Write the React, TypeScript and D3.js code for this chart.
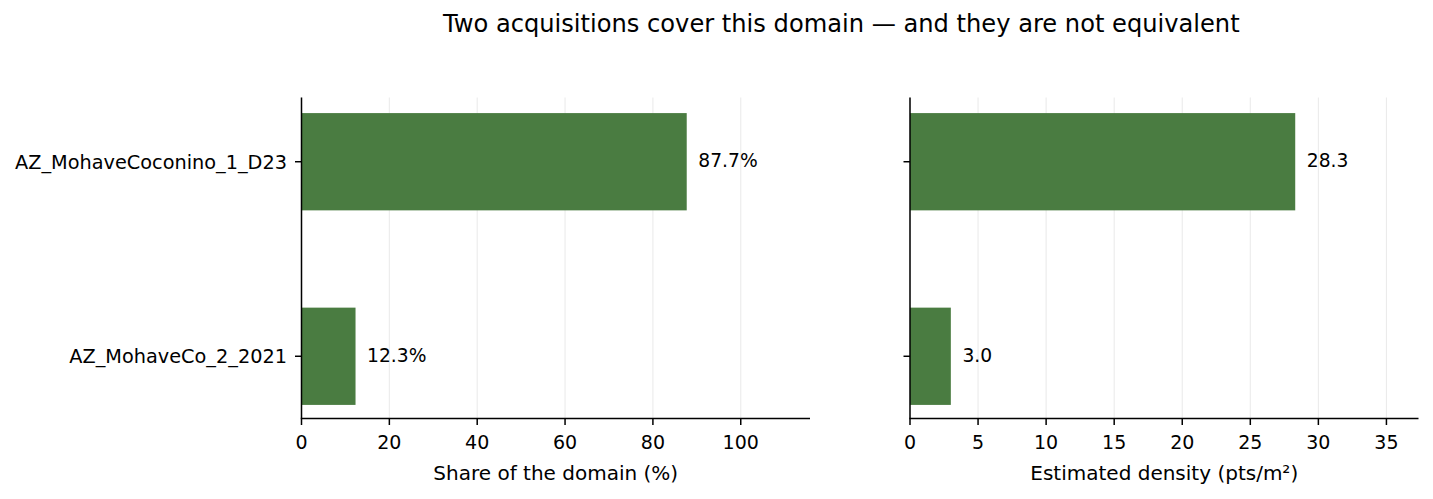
import React from "react";
import * as d3 from "d3";

const TITLE = "Two acquisitions cover this domain — and they are not equivalent";
const acquisitions = ["AZ_MohaveCoconino_1_D23", "AZ_MohaveCo_2_2021"];
const sharePct = [87.7, 12.3];
const densityPts = [28.3, 3.0];
const shareTicks = [0, 20, 40, 60, 80, 100];
const densityTicks = [0, 5, 10, 15, 20, 25, 30, 35];
const shareLabel = "Share of the domain (%)";
const densityLabel = "Estimated density (pts/m²)";

const W = 1433;
const H = 499;
const FONT = "DejaVu Sans";
const BAR = "#4a7c41";
const GRID = "#ebebeb";
const TOP = 97.5;
const BOTTOM = 418.5;

const y = d3.scaleLinear().domain([-0.325, 1.325]).range([TOP + 1, BOTTOM + 1]);

type PanelProps = {
  x0: number;
  x1: number;
  values: number[];
  ticks: number[];
  label: string;
  fmt: (v: number) => string;
  showCats: boolean;
};

function Panel({ x0, x1, values, ticks, label, fmt, showCats }: PanelProps) {
  const vmax = d3.max(values) as number;
  const x = d3.scaleLinear().domain([0, vmax * 1.32]).range([x0, x1]);
  const off = vmax * 0.03;
  return (
    <g>
      {ticks.map((t) => (
        <line key={"g" + t} x1={x(t)} x2={x(t)} y1={TOP} y2={BOTTOM} stroke={GRID} strokeWidth={1.1} />
      ))}
      {values.map((v, i) => (
        <rect key={"b" + i} x={x(0)} width={x(v) - x(0)} y={y(i - 0.25)} height={y(i + 0.25) - y(i - 0.25)} fill={BAR} />
      ))}
      {values.map((v, i) => (
        <text key={"v" + i} x={x(v + off)} y={y(i) + 5.7} fontSize={18.7} fontFamily={FONT} fill="#000">
          {fmt(v)}
        </text>
      ))}
      <line x1={x0} x2={x0} y1={TOP} y2={BOTTOM} stroke="#000" strokeWidth={1.5} />
      <line x1={x0 - 0.75} x2={x1} y1={BOTTOM} y2={BOTTOM} stroke="#000" strokeWidth={1.5} />
      {ticks.map((t) => (
        <g key={"t" + t}>
          <line x1={x(t)} x2={x(t)} y1={BOTTOM} y2={BOTTOM + 6.5} stroke="#000" strokeWidth={1.5} />
          <text x={x(t)} y={449} textAnchor="middle" fontSize={19} fontFamily={FONT} fill="#000">
            {t}
          </text>
        </g>
      ))}
      {acquisitions.map((c, i) => (
        <g key={"c" + i}>
          <line x1={x0 - 6.5} x2={x0} y1={y(i)} y2={y(i)} stroke="#000" strokeWidth={1.5} />
          {showCats && (
            <text x={x0 - 14.5} y={y(i) + 7.2} textAnchor="end" fontSize={19.3} fontFamily={FONT} fill="#000">
              {c}
            </text>
          )}
        </g>
      ))}
      <text x={(x0 + x1) / 2} y={480} textAnchor="middle" fontSize={20} fontFamily={FONT} fill="#000">
        {label}
      </text>
    </g>
  );
}

export default function App() {
  return (
    <svg width={W} height={H} style={{ position: "absolute", left: 0, top: 0, background: "#fff" }}>
      <rect width={W} height={H} fill="#fff" />
      <text x={841.3} y={32.3} textAnchor="middle" fontSize={24.15} fontFamily={FONT} fill="#000">
        {TITLE}
      </text>
      <Panel x0={301.5} x1={810} values={sharePct} ticks={shareTicks} label={shareLabel} fmt={(v) => v.toFixed(1) + "%"} showCats={true} />
      <Panel x0={910} x1={1418.5} values={densityPts} ticks={densityTicks} label={densityLabel} fmt={(v) => v.toFixed(1)} showCats={false} />
    </svg>
  );
}
